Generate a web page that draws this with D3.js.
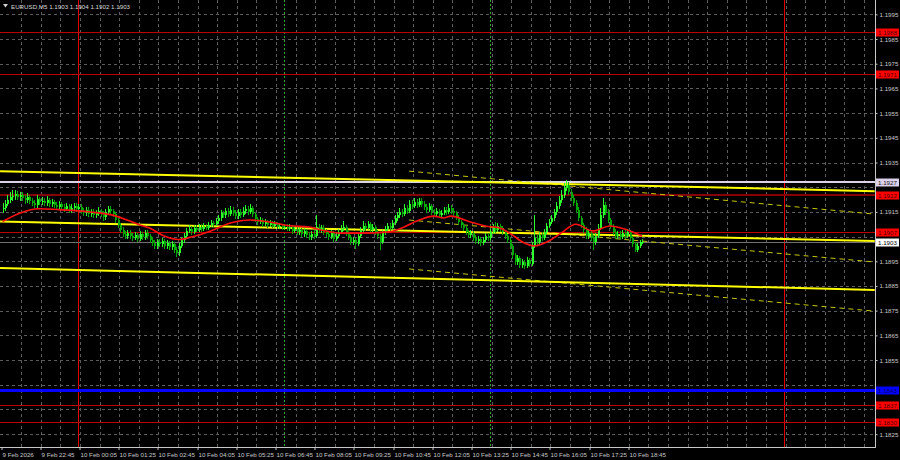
<!DOCTYPE html>
<html><head><meta charset="utf-8">
<script src="https://cdn.jsdelivr.net/npm/d3@7"></script>
<style>html,body{margin:0;padding:0;background:#000;}svg{display:block;}</style>
</head><body>
<svg id="c" width="900" height="460"></svg>
<script>
// ---------- DATA ----------
const symbolTitle = "EURUSD,M5 1.1903 1.1904 1.1902 1.1903";
const firstOpen = 1.19160;
const closes = [
1.19166,1.19182,1.19198,1.19210,1.19214,1.19222,1.19210,1.19218,1.19206,1.19198,
1.19210,1.19194,1.19186,1.19178,1.19202,1.19190,1.19194,1.19186,1.19198,1.19182,
1.19190,1.19178,1.19170,1.19182,1.19170,1.19162,1.19174,1.19158,1.19166,1.19174,
1.19162,1.19170,1.19154,1.19145,1.19158,1.19141,1.19149,1.19137,1.19145,1.19154,
1.19141,1.19129,1.19149,1.19162,1.19154,1.19141,1.19117,1.19097,1.19077,1.19060,
1.19052,1.19064,1.19052,1.19044,1.19056,1.19040,1.19060,1.19048,1.19064,1.19052,
1.19036,1.19024,1.19012,1.19028,1.19020,1.19032,1.19012,1.19024,1.19008,1.19020,
1.18996,1.18983,1.19012,1.19036,1.19052,1.19073,1.19081,1.19068,1.19085,1.19077,
1.19089,1.19081,1.19093,1.19085,1.19097,1.19105,1.19101,1.19113,1.19125,1.19145,
1.19137,1.19154,1.19141,1.19158,1.19145,1.19133,1.19149,1.19137,1.19154,1.19162,
1.19149,1.19166,1.19141,1.19121,1.19109,1.19117,1.19101,1.19109,1.19097,1.19105,
1.19093,1.19101,1.19089,1.19093,1.19085,1.19089,1.19081,1.19089,1.19073,1.19081,
1.19068,1.19077,1.19060,1.19073,1.19056,1.19048,1.19060,1.19052,1.19089,1.19077,
1.19085,1.19068,1.19060,1.19048,1.19064,1.19040,1.19052,1.19068,1.19081,1.19089,
1.19064,1.19048,1.19028,1.19036,1.19020,1.19052,1.19077,1.19093,1.19085,1.19101,
1.19077,1.19089,1.19068,1.19052,1.19028,1.19064,1.19081,1.19093,1.19085,1.19105,
1.19125,1.19137,1.19149,1.19141,1.19166,1.19154,1.19182,1.19174,1.19190,1.19178,
1.19194,1.19182,1.19170,1.19158,1.19174,1.19149,1.19141,1.19154,1.19137,1.19145,
1.19158,1.19149,1.19166,1.19154,1.19145,1.19129,1.19109,1.19097,1.19085,1.19068,
1.19056,1.19064,1.19044,1.19032,1.19040,1.19024,1.19036,1.19052,1.19044,1.19068,
1.19085,1.19077,1.19093,1.19081,1.19068,1.19052,1.19036,1.19012,1.18975,1.18947,
1.18963,1.18935,1.18947,1.18931,1.18955,1.18939,1.19016,1.19044,1.19028,1.19056,
1.19044,1.19068,1.19093,1.19109,1.19125,1.19149,1.19174,1.19198,1.19218,1.19247,
1.19259,1.19230,1.19206,1.19186,1.19158,1.19125,1.19097,1.19077,1.19052,1.19064,
1.19044,1.19028,1.19052,1.19085,1.19137,1.19178,1.19149,1.19117,1.19093,1.19068,
1.19052,1.19060,1.19048,1.19064,1.19052,1.19068,1.19044,1.19020,1.18996,1.19012,
1.19030,1.19030];
const highs = [
1.19185,1.19200,1.19220,1.19232,1.19238,1.19240,1.19235,1.19232,1.19230,1.19218,
1.19225,1.19220,1.19205,1.19198,1.19218,1.19212,1.19210,1.19205,1.19213,1.19208,
1.19203,1.19200,1.19190,1.19195,1.19190,1.19182,1.19188,1.19183,1.19180,1.19188,
1.19185,1.19183,1.19180,1.19165,1.19170,1.19168,1.19162,1.19160,1.19157,1.19168,
1.19163,1.19152,1.19162,1.19175,1.19172,1.19163,1.19150,1.19125,1.19105,1.19087,
1.19072,1.19077,1.19075,1.19063,1.19068,1.19066,1.19073,1.19070,1.19077,1.19075,
1.19062,1.19047,1.19036,1.19040,1.19040,1.19045,1.19041,1.19036,1.19033,1.19032,
1.19030,1.19006,1.19024,1.19047,1.19066,1.19085,1.19095,1.19091,1.19097,1.19095,
1.19101,1.19099,1.19105,1.19103,1.19110,1.19117,1.19115,1.19126,1.19138,1.19157,
1.19155,1.19167,1.19165,1.19172,1.19170,1.19156,1.19161,1.19160,1.19168,1.19177,
1.19173,1.19180,1.19175,1.19150,1.19131,1.19130,1.19126,1.19120,1.19118,1.19116,
1.19114,1.19112,1.19110,1.19104,1.19103,1.19101,1.19099,1.19100,1.19098,1.19092,
1.19090,1.19088,1.19086,1.19084,1.19082,1.19068,1.19071,1.19075,1.19138,1.19100,
1.19097,1.19095,1.19080,1.19070,1.19076,1.19073,1.19066,1.19080,1.19095,1.19112,
1.19098,1.19073,1.19057,1.19050,1.19046,1.19063,1.19089,1.19112,1.19105,1.19113,
1.19111,1.19101,1.19098,1.19077,1.19061,1.19075,1.19093,1.19105,1.19105,1.19117,
1.19137,1.19150,1.19165,1.19161,1.19183,1.19177,1.19200,1.19197,1.19206,1.19203,
1.19208,1.19205,1.19193,1.19181,1.19187,1.19183,1.19160,1.19165,1.19163,1.19157,
1.19171,1.19169,1.19180,1.19177,1.19165,1.19155,1.19138,1.19119,1.19107,1.19095,
1.19078,1.19076,1.19073,1.19055,1.19052,1.19049,1.19047,1.19065,1.19063,1.19081,
1.19100,1.19110,1.19105,1.19103,1.19091,1.19077,1.19061,1.19045,1.19020,1.18985,
1.18975,1.18972,1.18960,1.18957,1.18967,1.18965,1.19027,1.19138,1.19055,1.19067,
1.19069,1.19080,1.19105,1.19123,1.19139,1.19163,1.19190,1.19215,1.19237,1.19268,
1.19280,1.19270,1.19241,1.19217,1.19197,1.19169,1.19135,1.19107,1.19087,1.19075,
1.19073,1.19055,1.19063,1.19099,1.19165,1.19205,1.19190,1.19160,1.19127,1.19103,
1.19080,1.19072,1.19071,1.19075,1.19075,1.19079,1.19077,1.19053,1.19029,1.19023,
1.19038,1.19040];
const lows = [
1.19145,1.19155,1.19173,1.19185,1.19195,1.19200,1.19197,1.19195,1.19193,1.19183,
1.19185,1.19180,1.19173,1.19165,1.19167,1.19177,1.19178,1.19173,1.19175,1.19170,
1.19171,1.19167,1.19157,1.19160,1.19158,1.19150,1.19152,1.19145,1.19147,1.19155,
1.19150,1.19151,1.19142,1.19133,1.19135,1.19129,1.19130,1.19125,1.19126,1.19135,
1.19130,1.19115,1.19119,1.19139,1.19142,1.19129,1.19105,1.19085,1.19065,1.19047,
1.19039,1.19041,1.19040,1.19031,1.19035,1.19027,1.19031,1.19037,1.19038,1.19041,
1.19023,1.19011,1.18999,1.19001,1.19007,1.19009,1.19000,1.19001,1.18995,1.18997,
1.18983,1.18967,1.18973,1.19003,1.19025,1.19043,1.19063,1.19057,1.19059,1.19067,
1.19067,1.19070,1.19072,1.19075,1.19075,1.19087,1.19090,1.19091,1.19103,1.19115,
1.19125,1.19127,1.19130,1.19132,1.19135,1.19122,1.19123,1.19126,1.19128,1.19143,
1.19138,1.19140,1.19130,1.19109,1.19097,1.19099,1.19090,1.19091,1.19086,1.19087,
1.19083,1.19084,1.19079,1.19079,1.19075,1.19075,1.19071,1.19071,1.19062,1.19063,
1.19057,1.19058,1.19049,1.19050,1.19045,1.19035,1.19038,1.19041,1.19043,1.19065,
1.19066,1.19057,1.19049,1.19035,1.19039,1.19027,1.19031,1.19043,1.19059,1.19071,
1.19053,1.19035,1.19015,1.19017,1.19000,1.19011,1.19043,1.19067,1.19073,1.19075,
1.19065,1.19067,1.19057,1.19041,1.18996,1.19019,1.19055,1.19071,1.19074,1.19075,
1.19095,1.19115,1.19127,1.19130,1.19132,1.19143,1.19145,1.19163,1.19165,1.19167,
1.19170,1.19171,1.19159,1.19147,1.19149,1.19138,1.19130,1.19132,1.19126,1.19127,
1.19136,1.19138,1.19140,1.19143,1.19134,1.19117,1.19097,1.19085,1.19073,1.19057,
1.19044,1.19045,1.19033,1.19021,1.19022,1.19013,1.19015,1.19027,1.19033,1.19035,
1.19059,1.19065,1.19067,1.19070,1.19057,1.19041,1.19023,1.18999,1.18961,1.18933,
1.18935,1.18921,1.18923,1.18918,1.18921,1.18925,1.18930,1.19005,1.19015,1.19017,
1.19031,1.19035,1.19059,1.19083,1.19099,1.19115,1.19139,1.19163,1.19187,1.19207,
1.19235,1.19217,1.19193,1.19173,1.19145,1.19113,1.19085,1.19065,1.19039,1.19041,
1.19031,1.18995,1.19017,1.19043,1.19075,1.19125,1.19137,1.19105,1.19081,1.19055,
1.19040,1.19041,1.19037,1.19039,1.19041,1.19043,1.19033,1.19007,1.18988,1.18988,
1.19005,1.19020];
// moving average: [bar index, value]
const maPoints = [[0,1.19111],[7,1.19145],[15,1.19163],[23,1.19159],[31,1.19154],[40,1.19145],[44,1.19139],[52,1.19113],[56,1.19097],[60,1.19085],[66,1.19052],[72,1.19038],[77,1.19048],[85,1.19073],[93,1.19105],[101,1.19117],[109,1.19109],[117,1.19094],[125,1.19089],[130,1.19077],[138,1.19064],[146,1.19064],[157,1.19068],[163,1.19085],[170,1.19117],[176,1.19133],[180,1.19125],[183,1.19133],[191,1.19109],[197,1.19093],[203,1.19085],[207,1.19064],[213,1.19024],[217,1.19012],[223,1.19032],[228,1.19064],[234,1.19100],[241,1.19073],[248,1.19093],[255,1.19077],[261,1.19052]];
// horizontal levels
const levelPrices = [1.1988, 1.1971, 1.1927, 1.1922, 1.1907, 1.1903, 1.1843, 1.1837, 1.1830];
const levelKinds  = ["red","red","silver","dark","red","bid","blue","red","red"];
const levelLabels = ["1.1988","1.1971","1.1927","1.1922","1.1907","1.1903","1.1843","1.1837","1.1830"];
// price axis ticks
const priceTicks = [1.1995,1.1985,1.1975,1.1965,1.1955,1.1945,1.1935,1.1925,1.1915,1.1905,1.1895,1.1885,1.1875,1.1865,1.1855,1.1845,1.1835,1.1825];
// time axis labels (every 16 bars)
const timeLabels = ["9 Feb 2026","9 Feb 22:45","10 Feb 00:05","10 Feb 01:25","10 Feb 02:45","10 Feb 04:05","10 Feb 05:25","10 Feb 06:45","10 Feb 08:05","10 Feb 09:25","10 Feb 10:45","10 Feb 12:05","10 Feb 13:25","10 Feb 14:45","10 Feb 16:05","10 Feb 17:25","10 Feb 18:45"];
// vertical markers (bar index)
const dayBreakBars = [31, 319];
const sessionBars = [115, 199];
// regression channel (solid) : [startBar, startPrice, endBar, endPrice]
const channelSolid = [[-1,1.19315,356,1.19234],[-1,1.19111,356,1.19032],[-1,1.18923,356,1.18834]];
// second channel (dashed)
const channelDashed = [[166,1.19315,356,1.19141],[166,1.19117,356,1.18947],[166,1.18919,356,1.18748]];

// ---------- CHART ----------
const W = 875, H = 447;
const svg = d3.select("#c");
svg.append("rect").attr("width",900).attr("height",460).attr("fill","#000");
const y = d3.scaleLinear().domain([1.18198, 1.20008]).range([H, 0]);
const x = d3.scaleLinear().domain([0, 100]).range([2.5, 2.5 + 245]);
const font = "'Liberation Sans', Arial, sans-serif";
const fs = "6.2px";
const ry = p => Math.round(y(p)) + 0.5;

const plot = svg.append("g");
plot.append("clipPath").attr("id","clip").append("rect").attr("width",W).attr("height",H);
const g = plot.append("g").attr("clip-path","url(#clip)");

// grid
const gridCol = "#5c5c5c";
const grid = g.append("g").attr("shape-rendering","crispEdges");
priceTicks.forEach(p => {
  grid.append("line").attr("x1",0).attr("x2",W).attr("y1",ry(p)).attr("y2",ry(p))
   .attr("stroke",gridCol).attr("stroke-dasharray","3,3");
});
for (let b = 8; b < 360; b += 8) {
  const xx = Math.round(x(b)) - 0.5;
  grid.append("line").attr("x1",xx).attr("x2",xx).attr("y1",0).attr("y2",H)
   .attr("stroke",gridCol).attr("stroke-dasharray","3,3");
}

// vertical markers
sessionBars.forEach(b => {
  const xx = Math.round(x(b)) + 0.5;
  grid.append("line").attr("x1",xx).attr("x2",xx).attr("y1",0).attr("y2",H)
   .attr("stroke","#3aa63a").attr("stroke-dasharray","2,2");
});
dayBreakBars.forEach(b => {
  const xx = Math.round(x(b)) + 0.5;
  grid.append("line").attr("x1",xx).attr("x2",xx).attr("y1",0).attr("y2",H)
   .attr("stroke","#e80000").attr("stroke-width",1);
});

// horizontal levels
const lvlStyle = {
  red:{stroke:"#c00000",w:1, box:"#ff0000", txt:"#500000"},
  dark:{stroke:"#860000",w:2, box:"#ff0000", txt:"#500000"},
  silver:{stroke:"#dcd4e6",w:2, box:"#dcd0ea", txt:"#202020"},
  bid:{stroke:"#707070",w:1, box:"#ffffff", txt:"#000000"},
  blue:{stroke:"#0000ff",w:3, box:"#0000ff", txt:"#00006a"}
};
const lv = g.append("g").attr("shape-rendering","crispEdges");
levelPrices.forEach((p,i) => {
  const s = lvlStyle[levelKinds[i]];
  const yy = s.w % 2 === 1 ? ry(p) : Math.round(y(p));
  lv.append("line").attr("x1",0).attr("x2",W).attr("y1",yy).attr("y2",yy)
   .attr("stroke",s.stroke).attr("stroke-width",s.w);
});

// channels
const chLine = (c) => g.append("line").attr("x1",x(c[0])).attr("y1",y(c[1])).attr("x2",x(c[2])).attr("y2",y(c[3]));
channelDashed.forEach(c => chLine(c).attr("stroke","#c8c800").attr("stroke-width",1).attr("stroke-dasharray","5,4"));
channelSolid.forEach(c => chLine(c).attr("stroke","#ffff00").attr("stroke-width",2));

// candles
const opens = closes.map((c,i) => i === 0 ? firstOpen : closes[i-1]);
const cg = g.append("g").attr("shape-rendering","crispEdges");
closes.forEach((c,i) => {
  const o = opens[i];
  const up = c >= o;
  const col = up ? "#2cff2c" : "#00a800";
  const cx = Math.round(x(i)) + 0.5;
  cg.append("line").attr("x1",cx).attr("x2",cx).attr("y1",y(highs[i])).attr("y2",y(lows[i]))
    .attr("stroke",col).attr("stroke-width",1);
  const top = y(Math.max(o,c)), bot = y(Math.min(o,c));
  cg.append("rect").attr("x",cx-1).attr("width",2).attr("y",top).attr("height",Math.max(1,bot-top)).attr("fill",col);
});

// moving average
g.append("path").datum(maPoints)
  .attr("d", d3.line().x(d => x(d[0])).y(d => y(d[1])).curve(d3.curveMonotoneX))
  .attr("fill","none").attr("stroke","#ff1010").attr("stroke-width",1.6);

// frame
svg.append("line").attr("x1",W+0.5).attr("x2",W+0.5).attr("y1",0).attr("y2",H+1).attr("stroke","#c8c8c8");
svg.append("line").attr("x1",0).attr("x2",W+1).attr("y1",H+0.5).attr("y2",H+0.5).attr("stroke","#c8c8c8");

// price axis (skip tick labels hidden behind the price boxes)
const visibleTicks = priceTicks.filter(t => levelPrices.every(p => Math.abs(y(t) - y(p)) > 6.5));
const axisR = d3.axisRight(y).tickValues(visibleTicks).tickSize(2).tickPadding(2).tickFormat(d3.format(".4f"));
const ax = svg.append("g").attr("transform",`translate(${W+0.5},0)`).call(axisR);
ax.select(".domain").remove();
ax.selectAll(".tick line").attr("stroke","#c8c8c8");
ax.selectAll(".tick text").attr("fill","#c8c8c8").attr("font-family",font).attr("font-size",fs);

// price boxes
levelPrices.forEach((p,i) => {
  const s = lvlStyle[levelKinds[i]];
  const yy = Math.round(y(p));
  svg.append("rect").attr("x",W+1).attr("y",yy-3.5).attr("width",23).attr("height",8).attr("fill",s.box);
  svg.append("text").attr("x",W+3).attr("y",yy+0.5).attr("dy","0.35em").attr("fill",s.txt)
    .attr("font-family",font).attr("font-size",fs).text(levelLabels[i]);
});

// time axis
timeLabels.forEach((t,k) => {
  const xx = Math.round(x(16*k)) - 1.5;
  svg.append("line").attr("x1",xx+0.5).attr("x2",xx+0.5).attr("y1",H).attr("y2",H+3).attr("stroke","#c8c8c8");
  svg.append("text").attr("x",xx + 1).attr("y",H+9.5).attr("fill","#c8c8c8")
    .attr("font-family",font).attr("font-size",fs).text(t);
});

// title
svg.append("path").attr("d","M3,4 L8,4 L5.5,7.5 Z").attr("fill","#d0d0d0");
svg.append("text").attr("x",11).attr("y",9).attr("fill","#d8d8d8").attr("font-family",font)
  .attr("font-size",fs).text(symbolTitle);
</script>
</body></html>
